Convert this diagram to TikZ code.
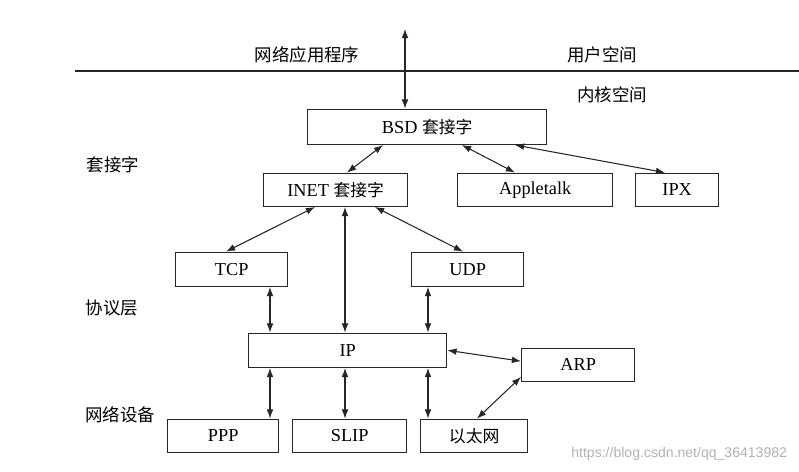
\documentclass[tikz,border=0pt]{standalone}
\usepackage{fontspec}
\usetikzlibrary{arrows.meta}
\setmainfont{Liberation Serif}
\newfontfamily\cjk{Noto Sans CJK SC}[Scale=0.92]
\newfontfamily\wmfont{Liberation Sans}
\begin{document}
\begin{tikzpicture}[
	layerbox/.style={rectangle, draw=black!85, line width=1pt, fill=white, anchor=south west, font=\fontsize{13}{15}\selectfont},
	sidelabel/.style={font=\fontsize{13.5}{15}\selectfont\cjk},
	link/.style={line width=0.75pt, draw=black!85, {Latex[length=6.5pt,width=4.8pt]}-{Latex[length=6.5pt,width=4.8pt]}}]

\useasboundingbox (0,0) rectangle (19.975,11.775);

%%\draw[step=1cm, gray, very thin] (0,0) grid (20,12);

% user space / kernel space
\coordinate (splitw) at (1.875,10.0);
\coordinate (splite) at (19.975,10.0);
\draw[line width=1pt, black!85] (splitw) -- (splite);

\node [sidelabel] at (7.675,10.4) (app) {网络应用程序};
\node [sidelabel] at (15.05,10.4) (user) {用户空间};
\node [sidelabel] at (15.3,9.4) (kernel) {内核空间};

\node [sidelabel] at (2.825,7.65) (socklbl) {套接字};
\node [sidelabel] at (2.8,4.075) (protolbl) {协议层};
\node [sidelabel] at (3.0,1.4) (devlbl) {网络设备};

% socket layer
\node at (7.675,8.15) [layerbox, minimum height=0.875cm, minimum width=5.975cm] (bsd) {BSD {\cjk 套接字}};
\node at (6.575,6.6) [layerbox, minimum height=0.825cm, minimum width=3.6cm] (inet) {INET {\cjk 套接字}};
\node at (11.425,6.6) [layerbox, minimum height=0.825cm, minimum width=3.875cm] (atalk) {Appletalk};
\node at (15.875,6.6) [layerbox, minimum height=0.825cm, minimum width=2.075cm] (ipx) {IPX};

% protocol layer
\node at (4.375,4.6) [layerbox, minimum height=0.85cm, minimum width=2.8cm] (tcp) {TCP};
\node at (10.275,4.6) [layerbox, minimum height=0.85cm, minimum width=2.8cm] (udp) {UDP};
\node at (6.2,2.575) [layerbox, minimum height=0.85cm, minimum width=4.95cm] (ip) {IP};
\node at (13.025,2.225) [layerbox, minimum height=0.825cm, minimum width=2.825cm] (arp) {ARP};

% devices
\node at (4.175,0.45) [layerbox, minimum height=0.825cm, minimum width=2.775cm] (ppp) {PPP};
\node at (7.3,0.45) [layerbox, minimum height=0.825cm, minimum width=2.85cm] (slip) {SLIP};
\node at (10.5,0.45) [layerbox, minimum height=0.825cm, minimum width=2.675cm] (eth) {\cjk 以太网};

\node [anchor=east, text=black!30, font=\wmfont\fontsize{10}{12}\selectfont] at (19.8,0.42) (wm) {https://blog.csdn.net/qq\_36413982};

% columns of the vertical links
\coordinate (apptop) at (10.125,11.05);
\coordinate (colA) at (6.75,0);
\coordinate (colB) at (8.625,0);
\coordinate (colC) at (10.7,0);

\begin{scope}[link]
	\draw (apptop) -- (bsd.north -| apptop);
	\draw ([xshift=1.9cm]bsd.south west) -- ([xshift=2.1cm]inet.north west);
	\draw ([xshift=3.875cm]bsd.south west) -- ([xshift=1.45cm]atalk.north west);
	\draw ([xshift=5.2cm]bsd.south west) -- ([xshift=0.75cm]ipx.north west);
	\draw ([xshift=1.3cm]inet.south west) -- ([xshift=1.275cm]tcp.north west);
	\draw ([xshift=2.8cm]inet.south west) -- ([xshift=1.3cm]udp.north west);
	\draw (inet.south -| colB) -- (ip.north -| colB);
	\draw (tcp.south -| colA) -- (ip.north -| colA);
	\draw (udp.south -| colC) -- (ip.north -| colC);
	\draw (ip.east) -- ([yshift=0.09cm]arp.west);
	\draw (ip.south -| colA) -- (ppp.north -| colA);
	\draw (ip.south -| colB) -- (slip.north -| colB);
	\draw (ip.south -| colC) -- (eth.north -| colC);
	\draw ([yshift=0.125cm]arp.south west) -- ([xshift=1.425cm]eth.north west);
\end{scope}

\end{tikzpicture}
\end{document}
